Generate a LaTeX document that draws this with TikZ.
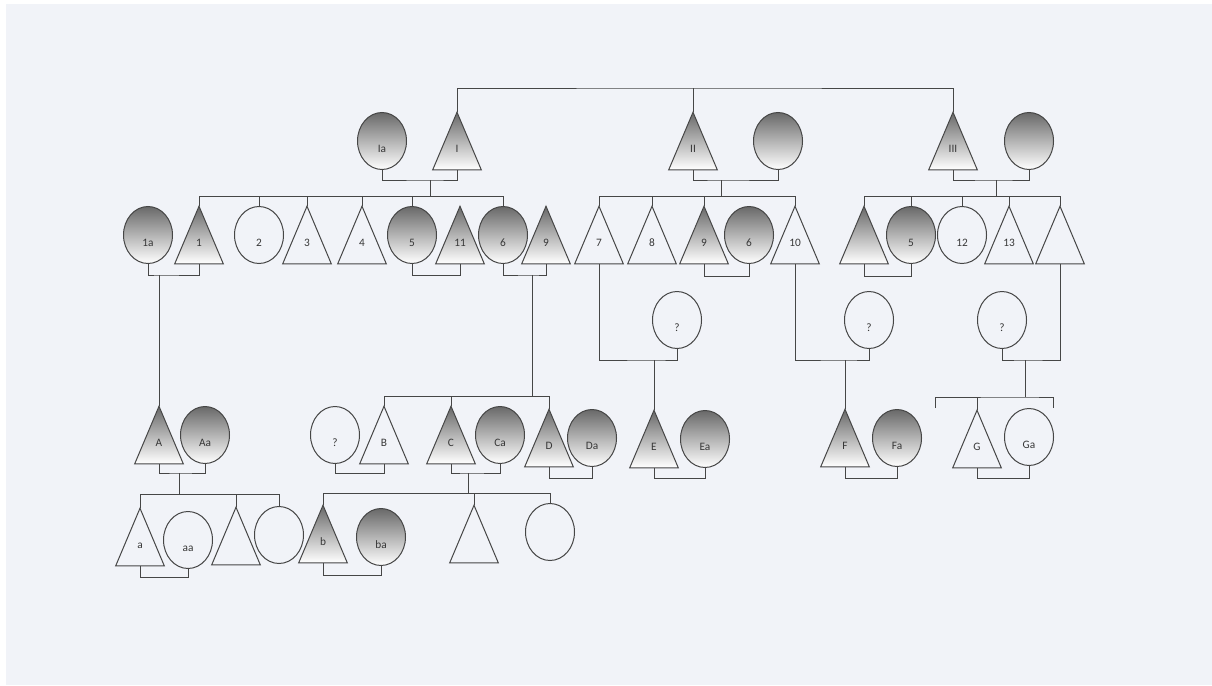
\documentclass[tikz,border=0pt]{standalone}
\usepackage{fontspec}
\setsansfont{Carlito}
\usepackage{tikz}
\usetikzlibrary{shapes.geometric}
\definecolor{pdedge}{RGB}{70,70,70}
\definecolor{pdshade}{RGB}{105,105,105}
\definecolor{pdbg}{RGB}{241,243,248}
\definecolor{pdtext}{RGB}{55,55,55}
\tikzset{
  pline/.style={draw=pdedge, line width=0.75pt},
  pers/.style={
    inner sep=0pt, text=pdtext, text height=17pt, text depth=0pt,
    font=\sffamily\fontsize{8.5}{10}\selectfont
  },
  circ/.style={pers, ellipse, draw=pdedge, line width=0.75pt,
    minimum width=36.75pt, minimum height=42.75pt},
  tri/.style={pers, minimum width=36pt, minimum height=42.75pt},
  affc/.style={top color=pdshade, bottom color=white},
  afft/.style={path picture={
    \shade[top color=pdshade, bottom color=white]
      (path picture bounding box.north) -- (path picture bounding box.south east)
      -- (path picture bounding box.south west) -- cycle;}}
}
\newcommand{\pdcouple}[3]{\draw[pline] (#1.south) -- (#1.south |- 0,#3) -| (#2.south);}

\begin{document}
\begin{tikzpicture}[x=0.75pt,y=-0.75pt]
  \useasboundingbox (0,0) rectangle (1212,685);
  \fill[white] (0,0) rectangle (1212,685);
  \fill[pdbg] (6,4) rectangle (1212,685);

  % generation I
  \node[circ, affc] (ia) at (382,141) {Ia};
  \node[tri, afft] (i) at (457,141) {I};
  \node[tri, afft] (ii) at (693,141) {II};
  \node[circ, affc] (iiw) at (778,141) {};
  \node[tri, afft] (iii) at (953,141) {III};
  \node[circ, affc] (iiiw) at (1029,141) {};

  % generation II
  \node[circ, affc] (l1a) at (148,235) {1a};
  \node[tri, afft] (l1) at (199,235) {1};
  \node[circ] (l2) at (259,235) {2};
  \node[tri] (l3) at (307,235) {3};
  \node[tri] (l4) at (362,235) {4};
  \node[circ, affc] (l5) at (412,235) {5};
  \node[tri, afft] (l11) at (460,235) {11};
  \node[circ, affc] (l6) at (503,235) {6};
  \node[tri, afft] (l9) at (546,235) {9};
  \node[tri] (m7) at (599,235) {7};
  \node[tri] (m8) at (652,235) {8};
  \node[tri, afft] (m9) at (704,235) {9};
  \node[circ, affc] (m6) at (749,235) {6};
  \node[tri] (m10) at (795,235) {10};
  \node[tri, afft] (r1) at (864,235) {};
  \node[circ, affc] (r5) at (911,235) {5};
  \node[circ] (r12) at (962,235) {12};
  \node[tri] (r13) at (1009,235) {13};
  \node[tri] (r2) at (1060,235) {};

  \node[circ] (q7) at (677,320) {?};
  \node[circ] (q10) at (869,320) {?};
  \node[circ] (qr) at (1002,320) {?};

  % generation III
  \node[tri, afft] (A) at (159,435) {A};
  \node[circ, affc] (Aa) at (205,435) {Aa};
  \node[circ] (qB) at (335,435) {?};
  \node[tri] (B) at (384,435) {B};
  \node[tri, afft] (C) at (451,435) {C};
  \node[circ, affc] (Ca) at (500,435) {Ca};
  \node[tri, afft] (D) at (549,438) {D};
  \node[circ, affc] (Da) at (592,438) {Da};
  \node[tri, afft] (E) at (654,439) {E};
  \node[circ, affc] (Ea) at (705,439) {Ea};
  \node[tri, afft] (F) at (845,438) {F};
  \node[circ, affc] (Fa) at (897,438) {Fa};
  \node[tri] (G) at (977,439) {G};
  \node[circ] (Ga) at (1029,437) {Ga};

  % generation IV
  \node[tri] (a) at (140,537) {a};
  \node[circ] (aa) at (188,540) {aa};
  \node[tri] (a2) at (236,536) {};
  \node[circ] (a3) at (279,535) {};
  \node[tri, afft] (b) at (323,534) {b};
  \node[circ, affc] (ba) at (381,537) {ba};
  \node[tri] (b2) at (474,534) {};
  \node[circ] (b3) at (550,532) {};

  \foreach \n in {i,ii,iii,l1,l3,l4,l11,l9,m7,m8,m9,m10,r1,r13,r2,
                  A,B,C,D,E,F,G,a,a2,b,b2}
    \draw[pline] (\n.north) -- (\n.south east) -- (\n.south west) -- cycle;

  % descent points
  \coordinate (top) at (693,88);
  \coordinate (c0L) at (430,180);
  \coordinate (s0L) at (430,196);
  \coordinate (c0M) at (721,180);
  \coordinate (s0M) at (721,196);
  \coordinate (c0R) at (996,180);
  \coordinate (s0R) at (996,196);
  \coordinate (c1) at (159,275);
  \coordinate (c2) at (532,275);
  \coordinate (s2) at (532,396);
  \coordinate (c7) at (654,360);
  \coordinate (c10) at (845,360);
  \coordinate (cr) at (1025,360);
  \coordinate (sr) at (1025,397);
  \coordinate (gl) at (935,408);
  \coordinate (gr) at (1053,408);
  \coordinate (cA) at (179,473);
  \coordinate (sA) at (179,494);
  \coordinate (cC) at (468,473);
  \coordinate (sC) at (468,493);

  \draw[pline] (i.north) |- (top) -| (iii.north);
  \draw[pline] (ii.north) -- (top);
  \draw[pline] (ia.south) |- (c0L) -| (i.south);
  \draw[pline] (ii.south) |- (c0M) -| (iiw.south);
  \draw[pline] (iii.south) |- (c0R) -| (iiiw.south);
  \draw[pline] (c0L) -- (s0L);
  \draw[pline] (c0M) -- (s0M);
  \draw[pline] (c0R) -- (s0R);
  \draw[pline] (l1.north |- s0L) -- (l6.north |- s0L);
  \draw[pline] (m7.north |- s0M) -- (m10.north |- s0M);
  \draw[pline] (r1.north |- s0R) -- (r2.north |- s0R);
  \foreach \n in {l1,l2,l3,l4,l5,l6}
    \draw[pline] (\n.north) -- (\n.north |- s0L);
  \foreach \n in {m7,m8,m9,m10}
    \draw[pline] (\n.north) -- (\n.north |- s0M);
  \foreach \n in {r1,r5,r12,r13,r2}
    \draw[pline] (\n.north) -- (\n.north |- s0R);

  \draw[pline] (l1a.south) |- (c1) -| (l1.south);
  \draw[pline] (c1) -- (A.north);
  \pdcouple{l5}{l11}{275}
  \draw[pline] (l6.south) |- (c2) -| (l9.south);
  \draw[pline] (c2) -- (s2);
  \pdcouple{m9}{m6}{276}
  \pdcouple{r1}{r5}{276}
  \draw[pline] (m7.south) |- (c7) -| (q7.south);
  \draw[pline] (c7) -- (E.north);
  \draw[pline] (m10.south) |- (c10) -| (q10.south);
  \draw[pline] (c10) -- (F.north);
  \draw[pline] (r2.south) |- (cr) -| (qr.south);
  \draw[pline] (cr) -- (sr);
  \draw[pline] (gl) |- (sr) -| (gr);
  \draw[pline] (G.north) -- (G.north |- sr);

  \draw[pline] (B.north |- s2) -- (D.north |- s2);
  \foreach \n in {B,C,D}
    \draw[pline] (\n.north) -- (\n.north |- s2);

  \draw[pline] (A.south) |- (cA) -| (Aa.south);
  \draw[pline] (cA) -- (sA);
  \pdcouple{qB}{B}{473}
  \draw[pline] (C.south) |- (cC) -| (Ca.south);
  \draw[pline] (cC) -- (sC);
  \pdcouple{D}{Da}{478}
  \pdcouple{E}{Ea}{478}
  \pdcouple{F}{Fa}{478}
  \pdcouple{G}{Ga}{478}

  \draw[pline] (a.north |- sA) -- (a3.north |- sA);
  \foreach \n in {a,a2,a3}
    \draw[pline] (\n.north) -- (\n.north |- sA);
  \draw[pline] (b.north |- sC) -- (b3.north |- sC);
  \foreach \n in {b,b2,b3}
    \draw[pline] (\n.north) -- (\n.north |- sC);
  \pdcouple{a}{aa}{577}
  \pdcouple{b}{ba}{575}
\end{tikzpicture}
\end{document}
